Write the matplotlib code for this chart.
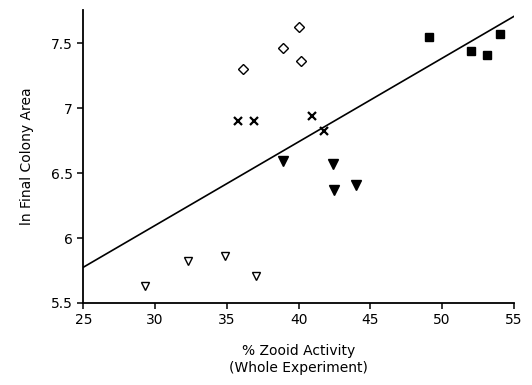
import matplotlib
matplotlib.use("Agg")
import matplotlib.pyplot as plt

# Data
diamond_x = [36.1, 40.0, 38.9, 40.2]
diamond_y = [7.30, 7.62, 7.46, 7.36]
square_x = [49.1, 52.0, 53.1, 54.0]
square_y = [7.55, 7.44, 7.41, 7.57]
cross_x = [35.8, 36.9, 40.9, 41.8]
cross_y = [6.90, 6.90, 6.94, 6.82]
tri_fill_x = [38.9, 42.4, 42.5, 44.0]
tri_fill_y = [6.59, 6.57, 6.37, 6.41]
tri_open_x = [29.3, 32.3, 34.9, 37.0]
tri_open_y = [5.63, 5.82, 5.86, 5.71]
fit_x = [25, 55]
fit_y = [5.775, 7.705]

xticks = [25, 30, 35, 40, 45, 50, 55]
yticks = [5.5, 6, 6.5, 7, 7.5]
ytick_labels = ["5.5", "6", "6.5", "7", "7.5"]

fig = plt.figure(figsize=(5.32, 3.85), dpi=100)
ax = fig.add_axes([0.1566, 0.213, 0.8094, 0.761])

ax.plot(fit_x, fit_y, color="black", lw=1.2, zorder=1)
ax.plot(diamond_x, diamond_y, ls="none", marker="D", ms=5, mfc="white", mec="black", mew=1.0)
ax.plot(square_x, square_y, ls="none", marker="s", ms=6, mfc="black", mec="black")
ax.plot(cross_x, cross_y, ls="none", marker="x", ms=6, color="black", mew=1.6)
ax.plot(tri_fill_x, tri_fill_y, ls="none", marker="v", ms=6.5, mfc="black", mec="black")
ax.plot(tri_open_x, tri_open_y, ls="none", marker="v", ms=6, mfc="white", mec="black", mew=1.0)

ax.set_xlim(25, 55)
ax.set_ylim(5.5, 7.754)
ax.set_xticks(xticks)
ax.set_yticks(yticks)
ax.set_yticklabels(ytick_labels)
ax.spines["top"].set_visible(False)
ax.spines["right"].set_visible(False)
for s in ["left", "bottom"]:
    ax.spines[s].set_linewidth(1.3)
ax.tick_params(axis="both", labelsize=10, width=1.1, length=4, direction="out")

ax.set_xlabel("% Zooid Activity\n(Whole Experiment)", fontsize=10, labelpad=12, linespacing=1.3)
ax.set_ylabel("ln Final Colony Area", fontsize=10, labelpad=12)

fig.savefig("out.png", dpi=100)
